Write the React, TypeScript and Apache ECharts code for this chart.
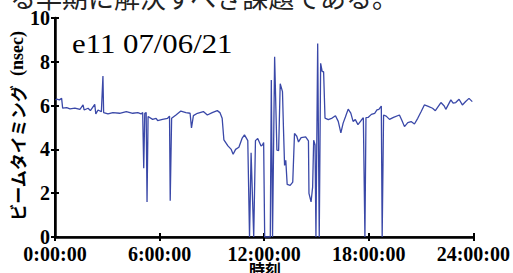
import React, { useEffect, useRef } from "react";
import * as echarts from "echarts";

// time in hours (0..24) and beam timing in nsec
const timesH: number[] = [
  0.03, 0.1, 0.25, 0.38, 0.44, 0.67, 0.86, 1.14, 1.43, 1.61, 1.67, 1.9, 2.03, 2.28, 2.34, 2.47, 2.66, 2.75, 2.79, 3.04,
  3.32, 3.71, 4.09, 4.46, 4.75, 4.94, 5.03, 5.09, 5.15, 5.23, 5.28, 5.34, 5.6, 5.8,
  5.89, 6.17, 6.46, 6.57, 6.61, 6.69, 6.94, 7.22, 7.51, 7.75, 7.83, 7.94, 8.17, 8.51, 8.74, 9.02,
  9.31, 9.46, 9.59, 9.69, 9.92, 10.11, 10.22, 10.36, 10.55, 10.73, 10.87, 11.06, 11.16, 11.25, 11.4, 11.5,
  11.63, 11.82, 11.9, 11.97, 12.03, 12.35, 12.41, 12.48, 12.6, 12.73, 12.83, 12.92, 13.05, 13.11, 13.17, 13.24,
  13.32, 13.49, 13.64, 13.74, 13.87, 13.97, 14.12, 14.38, 14.54, 14.57, 14.69, 14.78, 14.84, 14.92, 14.97, 15.07,
  15.16, 15.24, 15.33, 15.41, 15.49, 15.68, 15.9, 16.09, 16.25, 16.4, 16.53, 16.66, 16.82, 16.97, 17.1, 17.23,
  17.38, 17.57, 17.69, 17.78, 17.84, 17.96, 18.15, 18.34, 18.47, 18.58, 18.72, 18.77, 18.85, 19.0, 19.19, 19.42,
  19.76, 19.91, 20.05, 20.24, 20.43, 20.62, 20.81, 21.0, 21.19, 21.38, 21.66, 21.82, 22.14, 22.33, 22.42, 22.71,
  22.84, 22.99, 23.18, 23.37, 23.56, 23.75, 23.94,
];

const timingNsec: number[] = [
  6.25, 6.3, 6.26, 6.33, 5.88, 5.91, 5.85, 5.88, 5.83, 6.03, 5.8, 5.88, 5.77, 6.06, 5.62, 5.8, 5.72, 7.35, 5.68, 5.62,
  5.68, 5.65, 5.73, 5.65, 5.68, 5.62, 5.68, 3.14, 5.65, 5.68, 1.6, 5.5, 5.37, 5.42,
  5.31, 5.37, 5.42, 5.52, 1.66, 5.42, 5.57, 5.75, 5.68, 5.65, 4.98, 5.54, 5.65, 5.73, 5.57, 5.68,
  5.77, 5.68, 5.42, 4.43, 4.16, 4.0, 3.78, 4.0, 4.1, 4.5, 4.66, 4.4, 0, 3.85, 0, 4.4,
  4.5, 4.16, 4.2, 4.31, 0, 0, 7.17, 0, 8.23, 3.97, 3.95, 7.0, 6.64, 4.88, 3.27, 3.5,
  2.4, 2.36, 2.51, 4.73, 4.6, 4.34, 4.54, 4.57, 4.39, 1.99, 1.6, 2.28, 4.42, 4.2, 0, 8.84,
  0, 7.93, 7.55, 7.55, 5.43, 5.36, 5.43, 5.54, 5.28, 4.75, 5.2, 5.48, 5.84, 5.66, 5.28, 5.36,
  5.13, 5.33, 5.45, 0, 5.45, 5.46, 5.6, 5.65, 5.8, 5.83, 5.98, 0, 5.57, 5.52, 5.37, 5.46,
  5.57, 5.31, 5.04, 5.22, 5.27, 5.16, 5.42, 5.72, 6.03, 5.98, 5.88, 5.77, 6.14, 5.98, 5.83, 6.26,
  6.11, 6.14, 6.29, 6.03, 6.19, 6.33, 6.18,
];

const xTickHours: number[] = [0, 6, 12, 18, 24];
const yTicks: number[] = [0, 2, 4, 6, 8, 10];

const titleText = "e11 07/06/21";
const yAxisTitle = "ビームタイミング";
const yAxisUnit = "(nsec)";
const xAxisTitle = "時刻";
const topFragment = "る早期に解決すべき課題である。";

export default function App() {
  const ref = useRef<HTMLDivElement>(null);

  useEffect(() => {
    document.body.style.margin = "0";
    if (!ref.current) return;
    const chart = echarts.init(ref.current, undefined, { renderer: "svg" });
    const serif = "Liberation Serif";
    const cjk = "Noto Sans CJK JP";
    const data = timesH.map((t, i) => [t, timingNsec[i]]);
    const xMin = xTickHours[0];
    const xMax = xTickHours[xTickHours.length - 1];
    const yMin = yTicks[0];
    const yMax = yTicks[yTicks.length - 1];

    chart.setOption({
      animation: false,
      grid: { left: 55, right: 37, top: 18, bottom: 36, containLabel: false },
      xAxis: [
        {
          type: "value",
          min: xMin,
          max: xMax,
          interval: 6,
          position: "bottom",
          splitLine: { show: false },
          axisLine: { show: true, lineStyle: { color: "#000", width: 2.5 } },
          axisTick: { show: true, inside: true, length: 4, lineStyle: { color: "#000", width: 2 } },
          axisLabel: {
            show: true,
            margin: 7,
            color: "#000",
            fontFamily: serif,
            fontWeight: "bold",
            fontSize: 20,
            formatter: (v: number) => `${v}:00:00`,
          },
        },
        {
          type: "value",
          min: xMin,
          max: xMax,
          interval: 6,
          position: "top",
          splitLine: { show: false },
          axisLine: { show: true, lineStyle: { color: "#000", width: 1.5 } },
          axisTick: { show: true, inside: true, length: 4, lineStyle: { color: "#000", width: 2 } },
          axisLabel: { show: false },
        },
      ],
      yAxis: [
        {
          type: "value",
          min: yMin,
          max: yMax,
          interval: 2,
          position: "left",
          splitLine: { show: false },
          axisLine: { show: true, lineStyle: { color: "#000", width: 2.5 } },
          axisTick: { show: true, inside: true, length: 4, lineStyle: { color: "#000", width: 2 } },
          axisLabel: {
            show: true,
            margin: 5,
            color: "#000",
            fontFamily: serif,
            fontWeight: "bold",
            fontSize: 20,
          },
        },
        {
          type: "value",
          min: yMin,
          max: yMax,
          interval: 2,
          position: "right",
          splitLine: { show: false },
          axisLine: { show: true, lineStyle: { color: "#000", width: 2 } },
          axisTick: { show: true, inside: true, length: 4, lineStyle: { color: "#000", width: 2 } },
          axisLabel: { show: false },
        },
      ],
      series: [
        {
          type: "line",
          xAxisIndex: 0,
          yAxisIndex: 0,
          data,
          showSymbol: false,
          symbol: "none",
          lineStyle: { color: "#3a48a8", width: 1.3 },
          clip: true,
        },
      ],
      graphic: [
        {
          type: "text",
          x: 72,
          y: 43,
          scaleX: 1.1,
          style: {
            text: titleText,
            align: "left",
            verticalAlign: "middle",
            fontFamily: serif,
            fontSize: 28,
            fontWeight: "normal",
            fill: "#000",
          },
        },
        {
          type: "text",
          x: 17,
          y: 126,
          rotation: Math.PI / 2,
          style: {
            text: `{a|${yAxisTitle}}{b|  ${yAxisUnit}}`,
            align: "center",
            verticalAlign: "middle",
            rich: {
              a: { fontFamily: cjk, fontWeight: "bold", fontSize: 17, fill: "#000" },
              b: { fontFamily: serif, fontWeight: "bold", fontSize: 18, fill: "#000" },
            },
          },
        },
        {
          type: "text",
          x: 265,
          y: 269,
          style: {
            text: xAxisTitle,
            align: "center",
            verticalAlign: "middle",
            fontFamily: cjk,
            fontWeight: "bold",
            fontSize: 16,
            fill: "#000",
          },
        },
        {
          type: "text",
          x: 10,
          y: -4,
          style: {
            text: topFragment,
            align: "left",
            verticalAlign: "middle",
            fontFamily: cjk,
            fontSize: 26,
            fill: "#222",
          },
        },
      ],
    });
    return () => chart.dispose();
  }, []);

  return (
    <div
      ref={ref}
      style={{ position: "fixed", left: 0, top: 0, width: 513, height: 273, background: "#fff" }}
    />
  );
}
